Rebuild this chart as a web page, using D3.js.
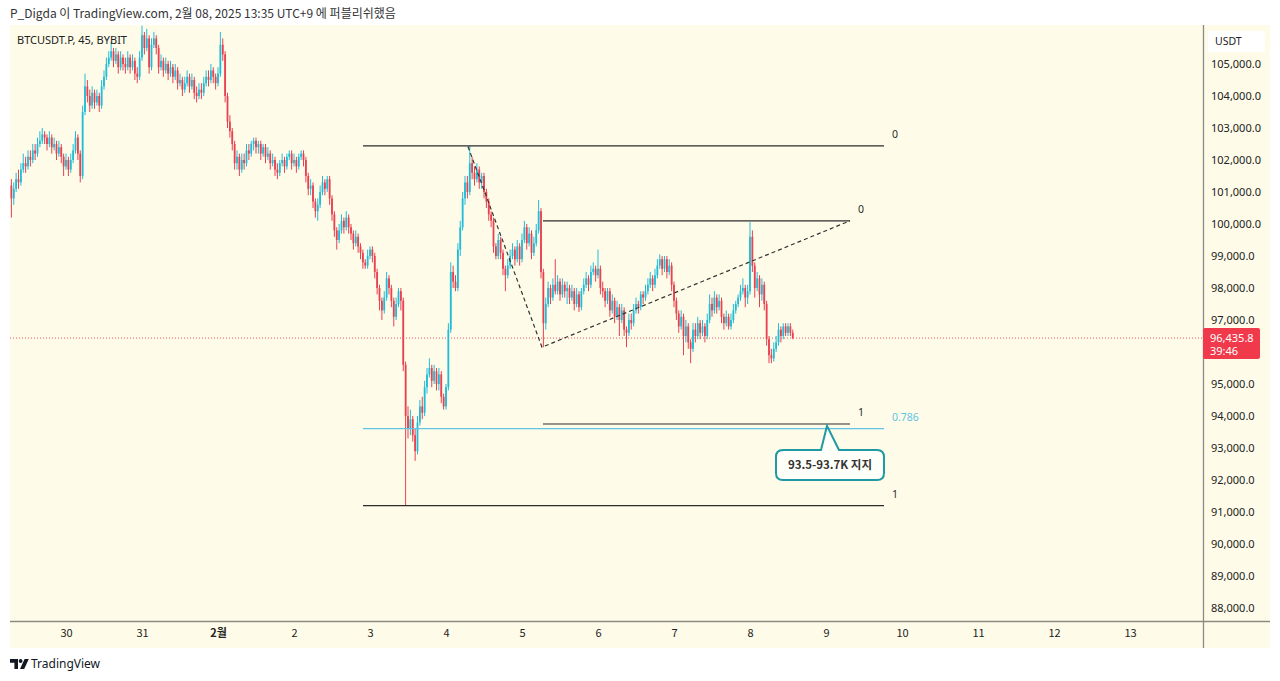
<!DOCTYPE html>
<html><head><meta charset="utf-8">
<script src="https://cdn.jsdelivr.net/npm/d3@7"></script>
<style>
html,body{margin:0;padding:0;background:#fff;}
svg{display:block;font-family:"Noto Sans","Noto Sans CJK KR",sans-serif;}
</style></head><body>
<svg id="c" width="1280" height="681"></svg>
<script>
// ---- data (times in days since 30 Jan 00:00 UTC+9, 45-minute bars) ----
const firstBarDay = -0.71875;
const barStepDay = 0.03125;
const opens = [
101200,100800,101100,101400,101300,101700,101900,101800,102100,102000,
102300,102200,102500,102600,102800,102700,102500,102700,102400,102500,
102200,102400,102100,101800,102000,101700,102000,102300,102700,102200,
101500,103500,104300,104000,103700,104100,103800,104000,103700,104300,
104600,105000,105200,105400,105100,105300,104900,105200,105000,104900,
105200,104900,105100,104700,104600,105200,105900,105500,105800,104900,
105600,105800,105500,104900,105100,104800,105000,104700,104900,104600,
104800,104400,104500,104200,104400,104600,104300,104500,104100,104000,
104200,104100,104400,104600,104500,104800,104600,104400,104700,105600,
105300,104000,103200,102900,102500,101900,102100,101700,102000,101900,
102300,102200,102500,102600,102400,102500,102200,102400,102100,102200,
101900,102000,101700,101600,101900,102000,101800,102100,102200,101900,
102000,101800,102100,102200,102000,101500,101100,101200,100700,100400,
100600,101000,101300,101100,101400,100800,100300,99800,99500,99800,
100100,99900,100200,99900,99700,99400,99600,99300,99100,98800,
98700,99000,99200,99000,98500,98000,97600,97300,97700,98300,
98000,97600,97100,97500,97900,97600,95600,94000,93600,93900,
93400,92900,93800,94300,94100,94900,95300,95500,95100,95400,
95000,95300,94600,94300,94900,96700,98500,98200,98000,99200,
99900,100800,101300,101000,101900,101600,101400,101700,101300,101500,
101000,100700,100300,100100,99300,99000,99500,99100,98600,98400,
98700,99000,99200,98900,99300,98900,99500,99900,99400,99700,
99100,99400,99800,100400,98500,96900,97500,98000,97700,98100,
97900,98200,97800,98100,97900,98000,97700,97900,97500,97800,
97400,97900,98100,98300,98100,98500,98600,98400,98600,98000,
97900,97600,97900,97300,97600,97100,97400,97000,97300,96700,
96600,97000,96900,97300,97500,97400,97800,97700,97900,98100,
98300,98100,98400,98700,98900,98600,98900,98500,98700,98100,
97600,97200,96800,97100,96500,96800,96300,96100,96700,96500,
96900,96600,96800,96500,97000,97500,97300,97700,97400,97600,
97100,96900,97100,96800,97000,97300,97500,97700,97900,98000,
97700,97900,99600,98700,98000,98300,97800,98100,97500,96400,
95900,95800,96100,96300,96700,96500,96800,96600,96800,96600];
const highs = [
101400,101300,101600,101700,101900,102200,102100,102300,102300,102500,
102500,102700,102900,103000,102900,102800,102900,102800,102700,102600,
102600,102500,102200,102200,102100,102200,102500,102900,102800,102300,
103700,104700,104500,104200,104300,104200,104200,104100,104500,104800,
105200,105400,105700,105500,105500,105400,105400,105300,105200,105400,
105300,105300,105200,104900,105400,106200,106000,106100,105900,105800,
106000,105900,105600,105300,105200,105200,105100,105100,105000,105000,
104900,104700,104600,104600,104800,104700,104700,104600,104300,104400,
104400,104600,104800,104800,105000,104900,104700,104900,106000,105800,
105400,104100,103400,103000,102600,102300,102200,102200,102200,102500,
102500,102600,102700,102700,102600,102600,102500,102500,102400,102300,
102200,102100,101900,102000,102200,102100,102200,102300,102300,102200,
102100,102200,102300,102300,102100,101600,101400,101300,100800,100800,
101200,101500,101400,101500,101500,100900,100400,99900,100000,100300,
100200,100400,100300,100000,99800,99800,99700,99400,99200,98900,
99200,99300,99300,99100,98600,98100,97700,97900,98500,98400,
98100,97700,97700,98000,98000,97700,95700,94300,94200,94000,
93600,94000,94500,94600,95100,95500,95800,95600,95600,95500,
95500,95400,94700,95000,96900,98800,98700,98400,99400,100100,
101000,101500,101500,102440,102100,101800,101900,101800,101600,101600,
101100,100800,100400,100200,99400,99700,99600,99200,98700,98900,
99200,99400,99300,99500,99400,99700,100100,100000,99900,99800,
99600,100000,100750,100500,98600,97700,98200,98100,98300,98900,
98400,98300,98300,98200,98200,98100,98100,98000,98000,97900,
98000,98300,98500,98400,98700,98800,98700,99200,98700,98200,
98000,98000,98000,97800,97700,97600,97500,97500,97400,96800,
97200,97200,97500,97700,97600,97900,97900,98100,98300,98500,
98400,98600,98900,99050,99000,99000,99000,98900,98800,98200,
97700,97300,97300,97200,97000,96900,96400,96900,96900,97100,
97000,97000,96900,97200,97800,97700,97900,97800,97800,97700,
97200,97300,97200,97200,97500,97600,97800,98100,98300,98100,
98100,100060,99800,98800,98500,98400,98300,98200,97600,96500,
96100,96300,96500,96900,96800,96900,96900,96900,96900,96700];
const lows = [
100200,100600,101000,101100,101200,101600,101600,101700,101800,101900,
102000,102100,102400,102500,102500,102300,102400,102200,102300,102000,
102100,101900,101500,101700,101500,101600,101900,102200,102000,101300,
101400,103400,103800,103500,103600,103600,103700,103500,103600,104200,
104500,104900,105100,104900,105000,104700,104800,104800,104700,104800,
104700,104800,104500,104400,104500,105100,105300,105400,104700,104800,
105500,105300,104700,104800,104600,104700,104500,104600,104400,104500,
104200,104300,104000,104100,104300,104100,104200,103900,103800,103900,
103900,104000,104300,104300,104400,104400,104200,104300,104600,105100,
103800,103000,102700,102300,101700,101700,101500,101600,101700,101800,
102000,102100,102300,102200,102200,102000,102100,101900,102000,101700,
101800,101500,101400,101500,101800,101600,101700,102000,101700,101800,
101600,101700,102000,101800,101300,100900,100900,100500,100200,100100,
100500,100900,100900,101000,100600,100100,99600,99200,99400,99700,
99700,99800,99700,99500,99200,99300,99100,98900,98600,98600,
98600,98900,98800,98300,97800,97300,97000,97200,97600,97800,
97400,96800,97000,97400,97300,95400,91200,93300,93400,93200,
92600,92800,93700,93900,94000,94700,95200,94900,95000,94800,
94800,94400,94200,94200,94800,96600,98000,97900,97900,99000,
99800,100600,100800,100900,101400,101200,101300,101100,101100,100800,
100500,100100,99900,99100,98900,98900,98900,98400,97900,98300,
98600,98900,98700,98800,98700,98800,99400,99200,99300,98900,
99000,99300,99700,98300,96150,96700,97400,97500,97600,97800,
97800,97600,97700,97700,97500,97500,97600,97300,97400,97250,
97300,97800,98000,97900,98000,98400,98200,98300,97800,97700,
97400,97500,97100,97200,96900,97000,96500,96900,96500,96150,
96500,96700,96800,97200,97200,97300,97500,97600,97800,98000,
97900,98000,98300,98600,98400,98500,98300,98400,97900,97400,
97000,96600,96700,95900,96300,96100,95650,96000,96300,96400,
96400,96500,96300,96400,96900,97100,97200,97200,97300,96900,
96700,96800,96700,96700,96900,97200,97400,97600,97800,97400,
97500,97800,98500,97700,97900,97400,97600,97300,96200,95650,
95650,95700,96000,96200,96300,96400,96500,96500,96500,96400];
const closes = [
100800,101100,101400,101300,101700,101900,101800,102100,102000,102300,
102200,102500,102600,102800,102700,102500,102700,102400,102500,102200,
102400,102100,101800,102000,101700,102000,102300,102700,102200,101500,
103500,104300,104000,103700,104100,103800,104000,103700,104300,104600,
105000,105200,105400,105100,105300,104900,105200,105000,104900,105200,
104900,105100,104700,104600,105200,105900,105500,105800,104900,105600,
105800,105500,104900,105100,104800,105000,104700,104900,104600,104800,
104400,104500,104200,104400,104600,104300,104500,104100,104000,104200,
104100,104400,104600,104500,104800,104600,104400,104700,105600,105300,
104000,103200,102900,102500,101900,102100,101700,102000,101900,102300,
102200,102500,102600,102400,102500,102200,102400,102100,102200,101900,
102000,101700,101600,101900,102000,101800,102100,102200,101900,102000,
101800,102100,102200,102000,101500,101100,101200,100700,100400,100600,
101000,101300,101100,101400,100800,100300,99800,99500,99800,100100,
99900,100200,99900,99700,99400,99600,99300,99100,98800,98700,
99000,99200,99000,98500,98000,97600,97300,97700,98300,98000,
97600,97100,97500,97900,97600,95600,94000,93600,93900,93400,
92900,93800,94300,94100,94900,95300,95500,95100,95400,95000,
95300,94600,94300,94900,96700,98500,98200,98000,99200,99900,
100800,101300,101000,101900,101600,101400,101700,101300,101500,101000,
100700,100300,100100,99300,99000,99500,99100,98600,98400,98700,
99000,99200,98900,99300,98900,99500,99900,99400,99700,99100,
99400,99800,100400,98500,96900,97500,98000,97700,98100,97900,
98200,97800,98100,97900,98000,97700,97900,97500,97800,97400,
97900,98100,98300,98100,98500,98600,98400,98600,98000,97900,
97600,97900,97300,97600,97100,97400,97000,97300,96700,96600,
97000,96900,97300,97500,97400,97800,97700,97900,98100,98300,
98100,98400,98700,98900,98600,98900,98500,98700,98100,97600,
97200,96800,97100,96500,96800,96300,96100,96700,96500,96900,
96600,96800,96500,97000,97500,97300,97700,97400,97600,97100,
96900,97100,96800,97000,97300,97500,97700,97900,98000,97700,
97900,99600,98700,98000,98300,97800,98100,97500,96400,95900,
95800,96100,96300,96700,96500,96800,96600,96800,96600,96436];

const dayTicks = [0,1,2,3,4,5,6,7,8,9,10,11,12,13,14];
const dayLabels = ["30","31","2월","2","3","4","5","6","7","8","9","10","11","12","13"];
const priceTicks = [88000,89000,90000,91000,92000,93000,94000,95000,96000,97000,98000,99000,100000,101000,102000,103000,104000,105000];
const lastPrice = 96435.8;
const lastPriceText = "96,435.8";
const countdownText = "39:46";

// drawings (time in days, price in USDT)
const fibOuterTime = [3.908, 10.763];
const fibOuterPrice = [102440, 91200];
const fibOuterExtra = 0.786;
const fibInnerTime = [6.276, 10.316];
const fibInnerPrice = [100100, 93750];
const zigTime = [5.289, 6.263, 10.316];
const zigPrice = [102420, 96150, 100100];
const calloutTime = 10.013, calloutPrice = 93690, calloutText = "93.5-93.7K 지지";

const headerText = "P_Digda 이 TradingView.com, 2월 08, 2025 13:35 UTC+9 에 퍼블리쉬했음";
const titleText = "BTCUSDT.P, 45, BYBIT";

// ---- layout ----
const svg = d3.select("#c");
const L = 10, T = 25, axisX = 1203, axisY = 621, R = 1270, B = 648;
const x = d3.scaleLinear().domain([0, 14]).range([66, 1130]);
const y = d3.scaleLinear().domain([88000, 105000]).range([608, 64]);
const upCol = "#22bcd8", dnCol = "#e94150", bg = "#fefce9";

svg.append("rect").attr("width",1280).attr("height",681).attr("fill","#fff");
svg.append("rect").attr("x",L).attr("y",T).attr("width",R-L).attr("height",B-T).attr("fill",bg);

svg.append("text").attr("x",10).attr("y",18).attr("font-size",12)
  .attr("font-family","'Noto Sans CJK KR','Noto Sans',sans-serif").attr("fill","#333").text(headerText);

svg.append("defs").append("clipPath").attr("id","plot")
  .append("rect").attr("x",L).attr("y",T).attr("width",axisX-L).attr("height",axisY-T);

const plot = svg.append("g").attr("clip-path","url(#plot)");

// price line
plot.append("line").attr("x1",L).attr("x2",axisX).attr("y1",y(lastPrice)).attr("y2",y(lastPrice))
  .attr("stroke","#ef5360").attr("stroke-width",1).attr("stroke-dasharray","1,2");

// candles
const bars = closes.map((c,i)=>({t:firstBarDay+i*barStepDay,o:opens[i],h:highs[i],l:lows[i],c}));
const cg = plot.append("g");
const bw = 1.8;
cg.selectAll("line.w").data(bars).join("line")
  .attr("x1",d=>x(d.t)).attr("x2",d=>x(d.t))
  .attr("y1",d=>y(d.h)).attr("y2",d=>y(d.l))
  .attr("stroke",d=>d.c>=d.o?upCol:dnCol).attr("stroke-width",1);
cg.selectAll("rect.b").data(bars).join("rect")
  .attr("x",d=>x(d.t)-bw/2).attr("width",bw)
  .attr("y",d=>y(Math.max(d.o,d.c)))
  .attr("height",d=>Math.max(1,Math.abs(y(d.o)-y(d.c))))
  .attr("fill",d=>d.c>=d.o?upCol:dnCol);

// drawings
const ink = "#2b2b2b";
const dg = plot.append("g");
function hline(t0,t1,p,col){
  dg.append("line").attr("x1",x(t0)).attr("x2",x(t1)).attr("y1",y(p)).attr("y2",y(p))
    .attr("stroke",col).attr("stroke-width",1.2);
}
function lab(t,p,txt,col){
  dg.append("text").attr("x",x(t)+8).attr("y",y(p)-8).attr("font-size",10.5)
    .attr("fill",col).text(txt);
}
hline(fibOuterTime[0],fibOuterTime[1],fibOuterPrice[0],ink);
hline(fibOuterTime[0],fibOuterTime[1],fibOuterPrice[1],ink);
const pExtra = fibOuterPrice[0] - fibOuterExtra*(fibOuterPrice[0]-fibOuterPrice[1]);
hline(fibOuterTime[0],fibOuterTime[1],pExtra,"#62c3e6");
lab(fibOuterTime[1],fibOuterPrice[0],"0",ink);
lab(fibOuterTime[1],fibOuterPrice[1],"1",ink);
lab(fibOuterTime[1],pExtra,String(fibOuterExtra),"#62c3e6");
hline(fibInnerTime[0],fibInnerTime[1],fibInnerPrice[0],ink);
hline(fibInnerTime[0],fibInnerTime[1],fibInnerPrice[1],ink);
lab(fibInnerTime[1],fibInnerPrice[0],"0",ink);
lab(fibInnerTime[1],fibInnerPrice[1],"1",ink);

dg.append("path")
  .attr("d",d3.line()(zigTime.map((t,i)=>[x(t),y(zigPrice[i])])))
  .attr("fill","none").attr("stroke","#333").attr("stroke-width",1.2).attr("stroke-dasharray","4,3");

// callout
const tx = x(calloutTime), ty = y(calloutPrice);
const bx0 = tx-51, bx1 = tx+57, by0 = ty+24, by1 = ty+54, r = 7;
const cpath = `M${bx0+r},${by0} H${tx-6} L${tx},${ty} L${tx+12},${by0} H${bx1-r} Q${bx1},${by0} ${bx1},${by0+r} V${by1-r} Q${bx1},${by1} ${bx1-r},${by1} H${bx0+r} Q${bx0},${by1} ${bx0},${by1-r} V${by0+r} Q${bx0},${by0} ${bx0+r},${by0} Z`;
dg.append("path").attr("d",cpath).attr("fill","#fffffa").attr("stroke","#1f9aa3").attr("stroke-width",2);
dg.append("text").attr("x",(bx0+bx1)/2).attr("y",(by0+by1)/2+4).attr("text-anchor","middle")
  .attr("font-size",11.5).attr("font-weight","bold").attr("fill","#333")
  .attr("font-family","'Noto Sans CJK KR','Noto Sans',sans-serif").text(calloutText);

// title
svg.append("text").attr("x",17).attr("y",44).attr("font-size",11).attr("fill","#222").text(titleText);

// separators
svg.append("line").attr("x1",axisX+0.5).attr("x2",axisX+0.5).attr("y1",T).attr("y2",B).attr("stroke","#8c8a80").attr("stroke-width",1.3);
svg.append("line").attr("x1",L).attr("x2",R).attr("y1",axisY+0.5).attr("y2",axisY+0.5).attr("stroke","#8c8a80").attr("stroke-width",1.3);

// price axis
const boxTop = y(lastPrice)-10, boxBot = y(lastPrice)+21;
const shownTicks = priceTicks.filter(v => y(v) < boxTop-6 || y(v) > boxBot+6);
const ya = svg.append("g").attr("transform",`translate(${axisX},0)`)
  .call(d3.axisRight(y).tickValues(shownTicks).tickFormat(d3.format(",.1f")).tickSize(0).tickPadding(8));
ya.select(".domain").remove();
ya.selectAll("text").attr("font-size",11).attr("fill","#222").attr("font-family","'Noto Sans',sans-serif");

// time axis
const xa = svg.append("g").attr("transform",`translate(0,${axisY})`)
  .call(d3.axisBottom(x).tickValues(dayTicks).tickFormat((d,i)=>dayLabels[i]).tickSize(0).tickPadding(8));
xa.select(".domain").remove();
xa.selectAll("text").attr("font-size",11).attr("fill","#222")
  .attr("font-family","'Noto Sans CJK KR','Noto Sans',sans-serif")
  .attr("font-weight",(d,i)=>i===2?"bold":"normal");

// last price label
svg.append("rect").attr("x",axisX).attr("y",boxTop).attr("width",57).attr("height",boxBot-boxTop)
  .attr("fill","#f0394a").attr("rx",2);
svg.append("text").attr("x",axisX+7).attr("y",y(lastPrice)+4).attr("font-size",11).attr("fill","#fff").text(lastPriceText);
svg.append("text").attr("x",axisX+7).attr("y",y(lastPrice)+17).attr("font-size",11).attr("fill","#fff").text(countdownText);

// USDT badge
svg.append("rect").attr("x",1208).attr("y",31).attr("width",57).attr("height",21).attr("rx",3).attr("fill","#fff");
svg.append("text").attr("x",1215).attr("y",45).attr("font-size",10.5).attr("fill","#222").text("USDT");

// TradingView logo
const lg = svg.append("g").attr("fill","#131722");
lg.append("path").attr("d","M10,659 h8 v10 h-3.6 v-6.3 h-4.4 z");
lg.append("circle").attr("cx",20.6).attr("cy",661).attr("r",1.9);
lg.append("path").attr("d","M24.6,659 h4.2 l-4.6,10 h-4.2 z");
svg.append("text").attr("x",31).attr("y",668).attr("font-size",12).attr("fill","#131722")
  .attr("font-family","'Noto Sans',sans-serif").text("TradingView");
</script>
</body></html>
